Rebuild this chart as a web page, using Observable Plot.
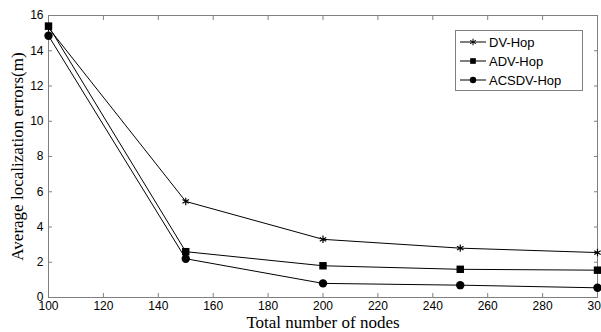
<!DOCTYPE html>
<html>
<head>
<meta charset="utf-8">
<script src="https://cdn.jsdelivr.net/npm/d3@7"></script>
<script src="https://cdn.jsdelivr.net/npm/@observablehq/plot@0.6"></script>
<style>
html, body { margin: 0; padding: 0; background: #fff; overflow: hidden; }
#wrap { position: relative; width: 601px; height: 332px; }
#legend { position: absolute; left: 455px; top: 30px; width: 126px; height: 59px; border: 1px solid #808080; background: #fff; font-family: "Liberation Sans", Arial, sans-serif; font-size: 13px; }
#legend .row { position: absolute; left: 4px; height: 16px; display: flex; align-items: center; }
#legend .row span { margin-left: 3px; }
</style>
</head>
<body>
<div id="wrap"></div>
<script>
const nodes = [100, 150, 200, 250, 300];
const dvHop = [15.3, 5.45, 3.3, 2.8, 2.55];
const advHop = [15.4, 2.6, 1.8, 1.6, 1.55];
const acsdvHop = [14.85, 2.2, 0.8, 0.7, 0.55];
const seriesNames = ["DV-Hop", "ADV-Hop", "ACSDV-Hop"];
const xTicks = [100, 120, 140, 160, 180, 200, 220, 240, 260, 280, 300];
const yTicks = [0, 2, 4, 6, 8, 10, 12, 14, 16];
const xLabel = "Total number of nodes";
const yLabel = "Average localization errors(m)";

const seriesValues = [dvHop, advHop, acsdvHop];
const data = [];
seriesNames.forEach((s, i) => nodes.forEach((n, j) => data.push({series: s, nodes: n, err: seriesValues[i][j]})));

const grey = "#808080";
const tickFont = "Liberation Sans, Arial, sans-serif";
const serif = "Liberation Serif, Times New Roman, serif";

const chart = Plot.plot({
  width: 601,
  height: 332,
  marginLeft: 48,
  marginRight: 4,
  marginTop: 15,
  marginBottom: 35,
  style: {background: "#fff", overflow: "visible"},
  x: {domain: [100, 300]},
  y: {domain: [0, 16]},
  marks: [
    Plot.frame({stroke: grey}),
    Plot.axisX(xTicks, {anchor: "bottom", tickSize: -4, tickPadding: 8, stroke: grey, fill: "black", fontFamily: tickFont, fontSize: 12, label: null}),
    Plot.axisX(xTicks, {anchor: "top", tickSize: -4, stroke: grey, tickFormat: () => "", label: null}),
    Plot.axisY(yTicks, {anchor: "left", tickSize: -4, tickPadding: 9, stroke: grey, fill: "black", fontFamily: tickFont, fontSize: 12, label: null}),
    Plot.axisY(yTicks, {anchor: "right", tickSize: -4, stroke: grey, tickFormat: () => "", label: null}),
    Plot.line(data, {x: "nodes", y: "err", z: "series", stroke: "black", strokeWidth: 1}),
    Plot.dot(data.filter(d => d.series === "DV-Hop"), {x: "nodes", y: "err", symbol: "asterisk", r: 3.5, stroke: "black", strokeWidth: 1.2}),
    Plot.dot(data.filter(d => d.series === "ADV-Hop"), {x: "nodes", y: "err", symbol: "square", r: 4.2, fill: "black", stroke: "none"}),
    Plot.dot(data.filter(d => d.series === "ACSDV-Hop"), {x: "nodes", y: "err", symbol: "circle", r: 4.2, fill: "black", stroke: "none"}),
    Plot.text([xLabel], {frameAnchor: "bottom", dy: 30, text: d => d, textAnchor: "middle", fontFamily: serif, fontSize: 17, fill: "black"}),
    Plot.text([yLabel], {frameAnchor: "left", dx: -31, rotate: -90, text: d => d, textAnchor: "middle", fontFamily: serif, fontSize: 17, fill: "black"})
  ]
});
document.getElementById("wrap").appendChild(chart);

// legend
const legend = document.createElement("div");
legend.id = "legend";
seriesNames.forEach((name, i) => {
  const row = document.createElement("div");
  row.className = "row";
  row.style.top = (3 + i * 19) + "px";
  const s = d3.create("svg").attr("width", 26).attr("height", 12);
  s.append("line").attr("x1", 0).attr("x2", 26).attr("y1", 6).attr("y2", 6).attr("stroke", "black");
  const sym = d3.symbol().type(i === 0 ? d3.symbolAsterisk : i === 1 ? d3.symbolSquare : d3.symbolCircle).size(i === 0 ? 30 : 32);
  s.append("path").attr("d", sym()).attr("transform", "translate(13,6)")
    .attr("fill", i === 0 ? "none" : "black").attr("stroke", i === 0 ? "black" : "none");
  row.appendChild(s.node());
  const t = document.createElement("span");
  t.textContent = name;
  row.appendChild(t);
  legend.appendChild(row);
});
document.getElementById("wrap").appendChild(legend);
</script>
</body>
</html>
